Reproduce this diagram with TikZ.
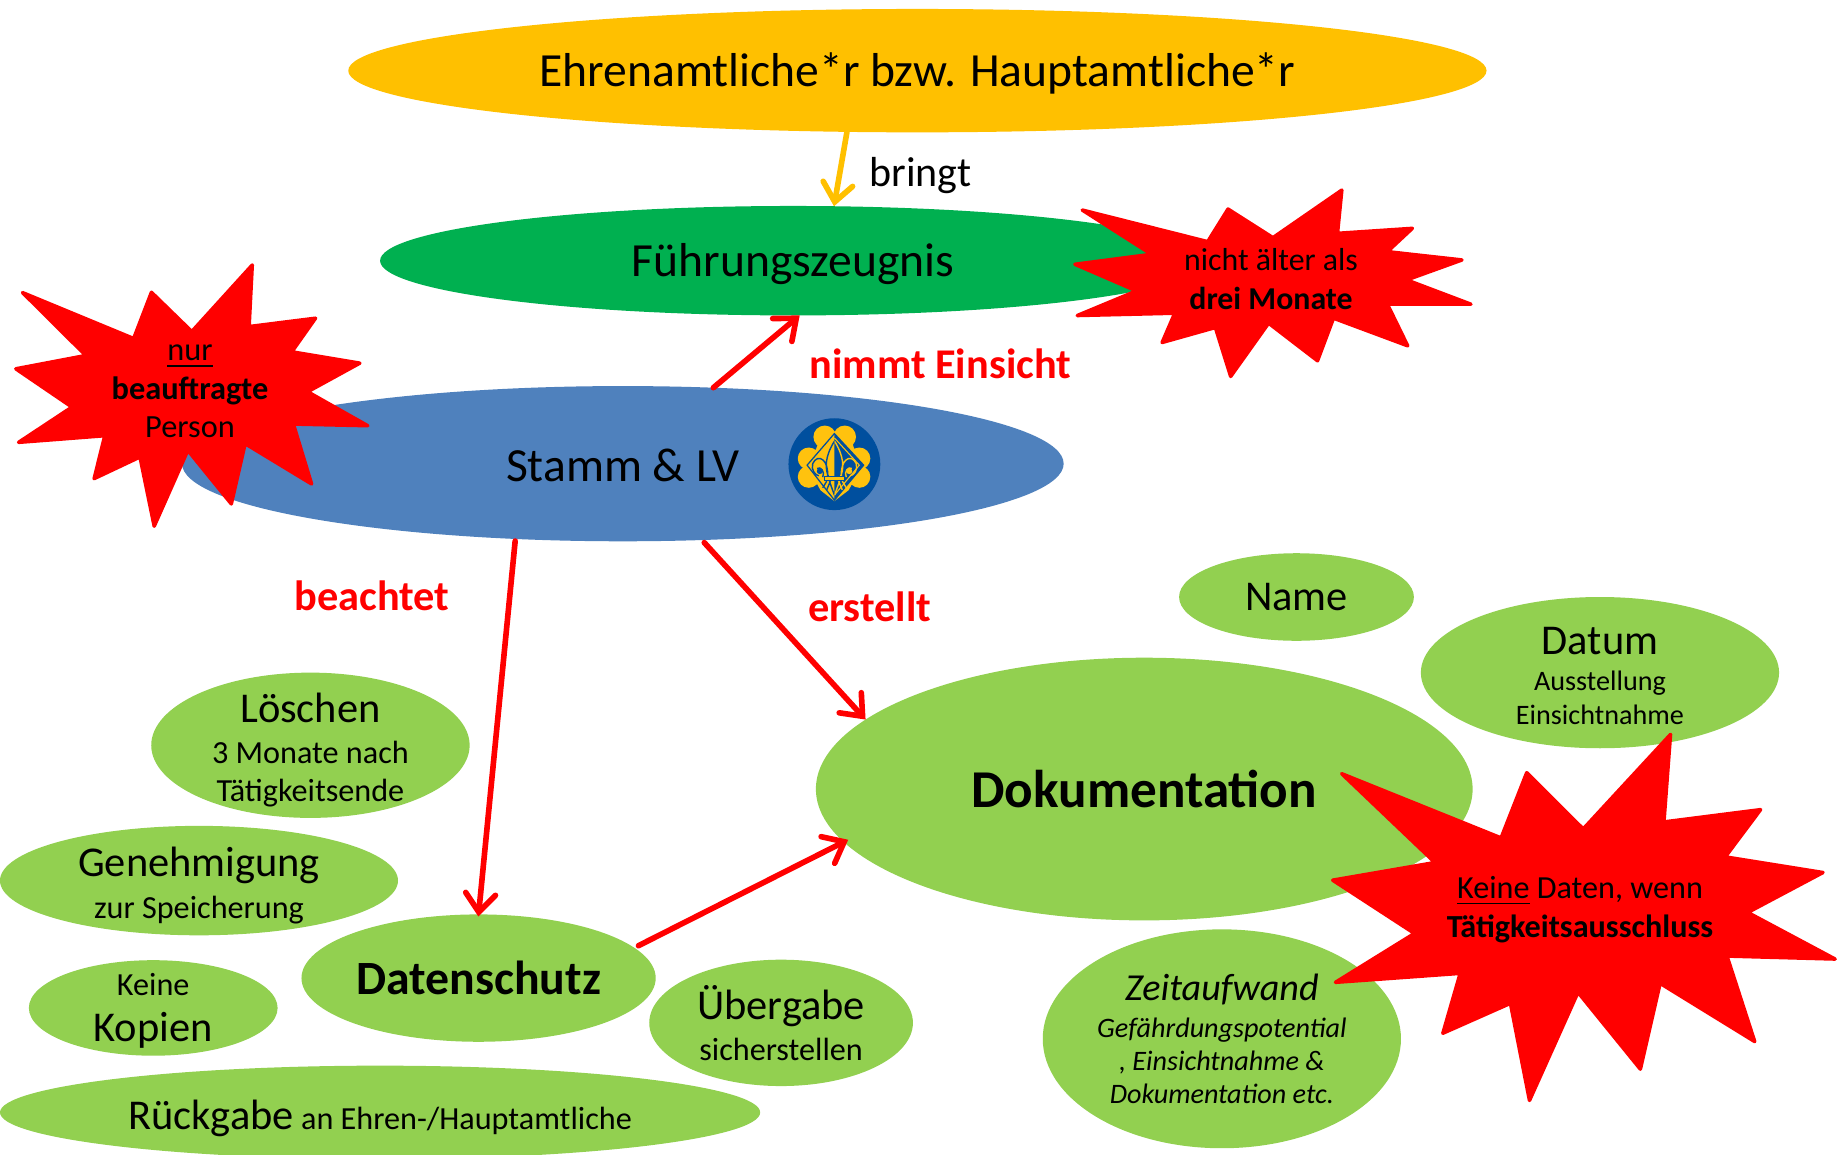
\documentclass[tikz,border=0pt]{standalone}
\usepackage{fontspec}
\setmainfont{Carlito}
\usetikzlibrary{shapes.geometric,arrows.meta}
\definecolor{orangeF}{HTML}{FFC000}
\definecolor{greenD}{HTML}{00B050}
\definecolor{blueF}{HTML}{4F81BD}
\definecolor{greenL}{HTML}{92D050}
\definecolor{logoB}{HTML}{004F9E}
\definecolor{logoG}{HTML}{FFC20E}
\newcommand{\fXL}{\fontsize{13.6}{16}\selectfont}
\newcommand{\fL}{\fontsize{12.13}{14}\selectfont}
\newcommand{\fM}{\fontsize{9.2}{10.7}\selectfont}
\newcommand{\fleurpath}{%
  (147,78) .. controls (118,125) and (118,160) .. (130,186)
  (126,186) .. controls (132,135) and (98,112) .. (82,145) .. controls (76,165) and (90,180) .. (100,182)
  (112,186) .. controls (120,170) and (105,152) .. (95,160)
  (124,198) -- (112,218)
  (135,198) -- (124,224)
  (132,198) -- (147,240)}
\tikzset{
  blob/.style={ellipse,inner sep=0pt,outer sep=0pt,align=center,text=black},
  stext/.style={inner sep=0pt,align=center,text=black},
  rlabel/.style={inner sep=0pt,text=red,font=\fontsize{12.1}{14}\selectfont\bfseries},
  link/.style={line width=1.6pt,color=red,-{Straight Barb[length=5.2pt,width=8.5pt,line cap=round]},line cap=round},
  burst/.style={fill=red,draw=red,line width=1pt,line join=round}
}
\begin{document}
\begin{tikzpicture}[x=0.01cm,y=-0.01cm]
\clip (0,0) rectangle (1843,1154);
\fill[white] (0,0) rectangle (1843,1154);
\begin{scope}[scale=0.995,transform shape]
% top ellipses
\node[blob,fill=orangeF,minimum width=1144*0.01cm,minimum height=124*0.01cm,font=\fXL,text height=12pt,text depth=3pt] (orange) at (922,71) {Ehrenamtliche*r bzw. Hauptamtliche*r};
\node[blob,fill=greenD,minimum width=830*0.01cm,minimum height=110*0.01cm,font=\fXL,text height=12pt,text depth=3pt] (zeugnis) at (797,262) {Führungszeugnis};
\node[blob,fill=blueF,minimum width=886*0.01cm,minimum height=156*0.01cm,font=\fXL,text height=10.2pt,text depth=0pt] (stamm) at (626,466) {Stamm \& LV};
% light green ellipses
\node[blob,fill=greenL,minimum width=236*0.01cm,minimum height=88*0.01cm,font=\fL] (name) at (1303,600) {Name};
\node[blob,fill=greenL,minimum width=360*0.01cm,minimum height=152*0.01cm] (datum) at (1608,676) {};
\node[stext,font=\fontsize{8.05}{9.7}\selectfont] (datumtext) at (1608,679.5) {{\fL Datum}\\[0.6pt]Ausstellung\\Einsichtnahme};
\node[blob,fill=greenL,minimum width=660*0.01cm,minimum height=264*0.01cm,font=\fontsize{15.2}{18}\selectfont\bfseries] (doku) at (1150,793) {Dokumentation};
\node[blob,fill=greenL,minimum width=360*0.01cm,minimum height=220*0.01cm,font=\fontsize{8.05}{9.4}\selectfont\itshape] (zeit) at (1228,1044) {{\fontsize{10.9}{13}\selectfont Zeitaufwand}\\[1.3pt]Gefährdungspotential\\, Einsichtnahme \&\\Dokumentation etc.};
\node[blob,fill=greenL,minimum width=320*0.01cm,minimum height=146*0.01cm] (loeschen) at (312,749) {};
\node[stext,font=\fM] (loeschentext) at (312,753.7) {{\fL Löschen}\\[1pt]3 Monate nach\\Tätigkeitsende};
\node[blob,fill=greenL,minimum width=400*0.01cm,minimum height=110*0.01cm] (genehm) at (200,885) {};
\node[stext,font=\fM] (genehmtext) at (200,889.7) {{\fL Genehmigung}\\[1.3pt]zur Speicherung};
\node[blob,fill=greenL,minimum width=250*0.01cm,minimum height=96*0.01cm] (kopien) at (154,1013) {};
\node[stext,font=\fontsize{12.13}{13.3}\selectfont] (kopientext) at (154,1016) {{\fM Keine}\\Kopien};
\node[blob,fill=greenL,minimum width=356*0.01cm,minimum height=128*0.01cm,font=\fontsize{13.65}{16}\selectfont\bfseries] (daten) at (481,983) {Datenschutz};
\node[blob,fill=greenL,minimum width=265*0.01cm,minimum height=127*0.01cm,font=\fM] (uebergabe) at (785,1028) {{\fL Übergabe}\\[1pt]sicherstellen};
\node[blob,fill=greenL,minimum width=764*0.01cm,minimum height=94*0.01cm] (rueckgabe) at (382,1118) {};
\node[stext,font=\fM] (rueckgabetext) at (382,1124) {{\fL Rückgabe} an Ehren-/Hauptamtliche};
% connectors
\draw[link,color=orangeF] (orange.221.7) -- (zeugnis.53);
\draw[link] (stamm.40.2) -- (zeugnis.277);
\draw[link,shorten >=-0.6pt,shorten <=0.6pt] (stamm.215.5) -- (daten.90);
\draw[link,shorten <=1pt] (stamm.316.5) -- (doku.166);
\draw[link,shorten <=1.3pt,shorten >=-1.4pt] (daten.11) -- (doku.190.9);
% labels
\node[inner sep=0pt,font=\fontsize{12}{14}\selectfont] (bringt) at (925,176) {bringt};
\node[rlabel] (einsicht) at (945,366) {nimmt Einsicht};
\node[rlabel] (beachtet) at (374,599) {beachtet};
\node[rlabel] (erstellt) at (874,610) {erstellt};
\end{scope}
% logo
\begin{scope}[shift={(7.85cm,-4.15cm)},x=0.003333cm,y=-0.003333cm]
  \fill[logoB] (147,147) circle (138);
  \fill[logoG] (118,65) circle (34) (178,65) circle (34)
     (70,130) circle (33) (70,185) circle (33)
     (222,130) circle (33) (222,185) circle (33)
     (100,80) -- (200,80) -- (225,160) -- (190,225) -- (147,258) -- (105,225) -- (70,160) -- cycle;
  \fill[logoG] (147,55) -- (235,150) -- (147,255) -- (65,150) -- cycle;
  \fill[logoB] (147,55) -- (235,150) -- (147,255) -- cycle;
  \draw[logoG,line width=0.3pt] (147,68) -- (222,150) -- (147,240);
  \draw[logoB,line width=0.35pt,line join=miter] (147,55) -- (235,150) -- (147,255) -- (65,150) -- cycle;
  \begin{scope}
    \clip (0,0) rectangle (147,300);
    \draw[logoB,line width=0.4pt] \fleurpath;
    \fill[logoB] (103,168) circle (9);
  \end{scope}
  \begin{scope}[xshift=0.98cm,xscale=-1]
    \clip (0,0) rectangle (147,300);
    \draw[logoG,line width=0.4pt] \fleurpath;
    \fill[logoG] (103,168) circle (9);
  \end{scope}
  \fill[logoG] (116,184) rectangle (178,197);
  \draw[logoB,line width=0.3pt] (116,184) rectangle (178,197);
\end{scope}
% bursts
\begin{scope}[shift={(0cm,-1.8cm)},x=0.003954cm,y=-0.003333cm]
\filldraw[burst] (638,255) -- (630,440) -- (798,415) -- (738,516) -- (910,550) -- (778,636) -- (930,738) -- (742,733) -- (788,913) -- (620,792) -- (585,973) -- (475,812) -- (390,1040) -- (354,832) -- (238,897) -- (265,768) -- (47,788) -- (182,682) -- (40,567) -- (217,527) -- (57,338) -- (338,476) -- (383,337) -- (485,455) -- cycle;
\end{scope}
\begin{scope}[shift={(10.5cm,-1.7cm)},x=0.003333cm,y=-0.003333cm]
\filldraw[burst] (875,60) -- (862,190) -- (1087,175) -- (1012,245) -- (1236,270) -- (1070,330) -- (1263,403) -- (1012,403) -- (1073,528) -- (850,445) -- (802,573) -- (655,460) -- (541,620) -- (495,473) -- (335,518) -- (373,430) -- (80,437) -- (258,363) -- (73,283) -- (303,253) -- (95,120) -- (472,215) -- (533,117) -- (668,203) -- cycle;
\end{scope}
\begin{scope}[shift={(13cm,-7.2cm)},x=0.003462cm,y=-0.003333cm]
\filldraw[burst] (1067,42) -- (1048,305) -- (1327,268) -- (1225,410) -- (1507,457) -- (1290,577) -- (1542,717) -- (1230,708) -- (1310,965) -- (1037,790) -- (980,1048) -- (800,817) -- (660,1142) -- (605,850) -- (410,940) -- (460,760) -- (100,787) -- (328,640) -- (92,480) -- (387,427) -- (118,160) -- (578,353) -- (652,157) -- (815,326) -- cycle;
\end{scope}
\node[stext,font=\fontsize{9.2}{10.9}\selectfont] (nur) at (190,391.5) {\underline{nur}\\\textbf{beauftragte}\\Person};
\node[stext,font=\fontsize{9.05}{11}\selectfont] (monate) at (1271,279) {nicht älter als\\\textbf{drei Monate}};
\node[stext,font=\fontsize{9.15}{11}\selectfont] (keine) at (1580,909.5) {\underline{Keine} Daten, wenn\\\textbf{Tätigkeitsausschluss}};
\end{tikzpicture}
\end{document}
